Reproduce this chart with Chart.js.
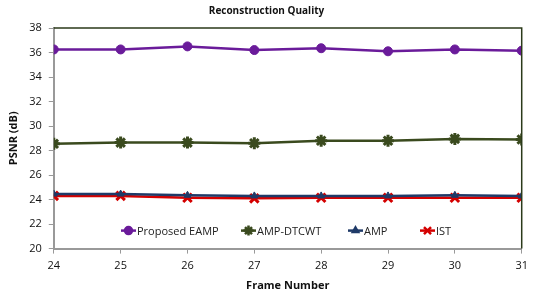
<!DOCTYPE html>
<html>
<head>
<meta charset="utf-8">
<script src="https://cdn.jsdelivr.net/npm/chart.js"></script>
<style>
  html, body { margin: 0; padding: 0; background: #fff; }
  #wrap { width: 534px; height: 297px; position: relative; }
</style>
</head>
<body>
<div id="wrap"><canvas id="myChart"></canvas></div>
<script>
// frame numbers on the x axis
const frames = [24, 25, 26, 27, 28, 29, 30, 31];

// PSNR values
const proposedEamp = [36.25, 36.25, 36.5, 36.2, 36.35, 36.1, 36.25, 36.15];
const ampDtcwt = [28.55, 28.65, 28.65, 28.6, 28.8, 28.8, 28.95, 28.9];
const amp = [24.45, 24.45, 24.35, 24.3, 24.3, 24.3, 24.35, 24.3];
const ist = [24.3, 24.3, 24.15, 24.1, 24.15, 24.15, 24.15, 24.15];

const seriesNames = ['Proposed EAMP', 'AMP-DTCWT', 'AMP', 'IST'];

function pts(vals) {
    return frames.map(function(f, i) { return {x: f, y: vals[i]}; });
}

var font = "'Open Sans', 'Liberation Sans', sans-serif";

// legend drawn inside the plot area like the original
var insideLegend = {
    id: 'insideLegend',
    afterDraw: function(chart) {
        var ctx = chart.ctx;
        var area = chart.chartArea;
        var y = area.bottom - 18;
        var xs = [121, 241, 348, 420];
        ctx.save();
        ctx.font = '11px ' + font;
        ctx.textBaseline = 'middle';
        chart.data.datasets.forEach(function(ds, i) {
            var x = xs[i];
            ctx.strokeStyle = ds.borderColor;
            ctx.lineWidth = 2.5;
            ctx.beginPath();
            ctx.moveTo(x, y);
            ctx.lineTo(x + 15, y);
            ctx.stroke();
            ctx.fillStyle = ds.backgroundColor;
            ctx.strokeStyle = ds.borderColor;
            Chart.helpers.drawPoint(ctx, {
                pointStyle: ds.pointStyle,
                radius: ds.pointRadius - 1,
                borderWidth: ds.pointBorderWidth || 1
            }, x + 7.5, y);
            ctx.fillStyle = '#222';
            ctx.fillText(ds.label, x + 16, y + 1);
        });
        ctx.restore();
    }
};

// dark frame on top and right side
var frameLines = {
    id: 'frameLines',
    afterDatasetsDraw: function(chart) {
        var ctx = chart.ctx;
        var a = chart.chartArea;
        ctx.save();
        ctx.strokeStyle = '#2b3a1a';
        ctx.lineWidth = 1.5;
        ctx.beginPath();
        ctx.moveTo(a.left, a.top);
        ctx.lineTo(a.right, a.top);
        ctx.lineTo(a.right, a.bottom);
        ctx.stroke();
        ctx.restore();
    }
};

var config = {
    type: 'line',
    data: {
        datasets: [
            {
                label: seriesNames[0], data: pts(proposedEamp),
                borderColor: '#6a1b9a', backgroundColor: '#6a1b9a',
                borderWidth: 2.5, pointStyle: 'circle', pointRadius: 4.5,
                pointBorderWidth: 1
            },
            {
                label: seriesNames[1], data: pts(ampDtcwt),
                borderColor: '#3a4a1e', backgroundColor: '#3a4a1e',
                borderWidth: 2.5, pointStyle: 'star', pointRadius: 6,
                pointBorderWidth: 3
            },
            {
                label: seriesNames[2], data: pts(amp),
                borderColor: '#1f3a68', backgroundColor: '#1f3a68',
                borderWidth: 2.5, pointStyle: 'triangle', pointRadius: 4,
                pointBorderWidth: 1
            },
            {
                label: seriesNames[3], data: pts(ist),
                borderColor: '#d40000', backgroundColor: '#d40000',
                borderWidth: 2.5, pointStyle: 'crossRot', pointRadius: 6,
                pointBorderWidth: 3
            }
        ]
    },
    options: {
        responsive: true,
        maintainAspectRatio: false,
        animation: false,
        layout: { padding: { top: 5, right: 4, left: 3, bottom: 1 } },
        plugins: {
            legend: { display: false },
            tooltip: { enabled: false },
            title: {
                display: true,
                text: 'Reconstruction Quality',
                color: '#111',
                font: { family: font, size: 10, weight: 'bold' },
                padding: { top: 0, bottom: 11 }
            }
        },
        scales: {
            x: {
                type: 'linear',
                min: 24, max: 31,
                ticks: {
                    stepSize: 1, color: '#111',
                    font: { family: font, size: 11 }, padding: 6
                },
                grid: { drawOnChartArea: false, color: '#999', tickLength: 5 },
                border: { color: '#999', width: 2 },
                title: {
                    display: true, text: 'Frame Number', color: '#111',
                    font: { family: font, size: 11, weight: 'bold' },
                    padding: { top: 0 }
                }
            },
            y: {
                min: 20, max: 38,
                ticks: {
                    stepSize: 2, color: '#111',
                    font: { family: font, size: 11 }, padding: 7
                },
                grid: { drawOnChartArea: false, color: '#999', tickLength: 5 },
                border: { color: '#999', width: 2 },
                title: {
                    display: true, text: 'PSNR (dB)', color: '#111',
                    font: { family: font, size: 11, weight: 'bold' },
                    padding: { bottom: 2 }
                }
            }
        }
    },
    plugins: [insideLegend, frameLines]
};

var myChart = new Chart(document.getElementById('myChart'), config);
</script>
</body>
</html>
